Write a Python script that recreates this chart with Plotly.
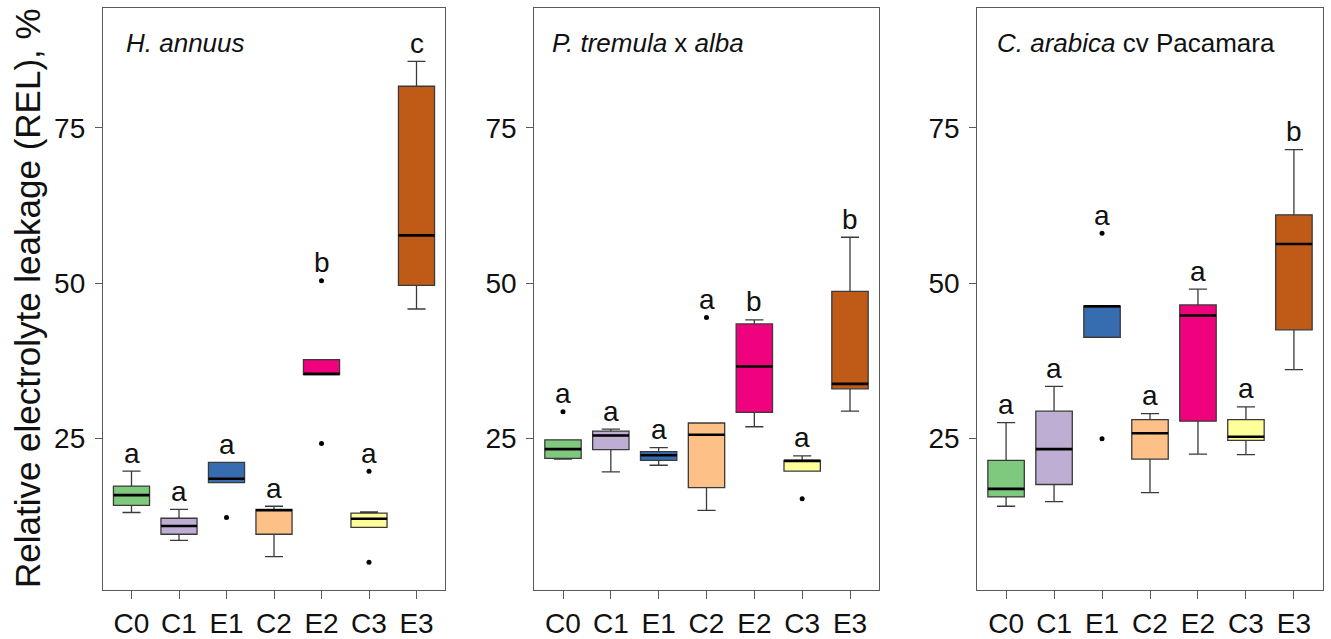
import plotly.graph_objects as go

categories = ["C0", "C1", "E1", "C2", "E2", "C3", "E3"]
colors = ["#7FC97F", "#BEAED4", "#386CB0", "#FDC086", "#F0027F", "#FFFF99", "#BF5B17"]
panel_titles = ["<i>H. annuus</i>", "<i>P. tremula</i> x <i>alba</i>", "<i>C. arabica</i> cv Pacamara"]

# Panel 1: H. annuus
p1_lo = [13.1, 8.6, 17.9, 6.0, 35.3, 10.7, 45.85]
p1_q1 = [14.25, 9.6, 17.9, 9.6, 35.3, 10.7, 49.65]
p1_med = [15.9, 10.93, 18.53, 13.45, 35.4, 12.1, 57.7]
p1_q3 = [17.35, 12.17, 21.15, 13.6, 37.7, 13.0, 81.7]
p1_hi = [19.76, 13.6, 21.15, 14.1, 37.7, 13.2, 85.7]
p1_out = [[], [], [12.3], [], [50.4, 24.2], [19.75, 5.1], []]
p1_letters = ["a", "a", "a", "a", "b", "a", "c"]

# Panel 2: P. tremula x alba
p2_lo = [21.7, 19.65, 20.7, 13.45, 26.9, 19.75, 29.4]
p2_q1 = [21.8, 23.2, 21.5, 17.1, 29.2, 19.75, 33.0]
p2_med = [23.3, 25.5, 22.3, 25.6, 36.6, 21.4, 33.8]
p2_q3 = [24.8, 26.2, 22.9, 27.5, 43.45, 21.5, 48.7]
p2_hi = [24.8, 26.5, 23.55, 27.5, 44.1, 22.2, 57.4]
p2_out = [[29.3], [], [], [44.5], [], [15.3], []]
p2_letters = ["a", "a", "a", "a", "b", "a", "b"]

# Panel 3: C. arabica cv Pacamara
p3_lo = [14.1, 14.85, 41.3, 16.3, 22.5, 22.4, 36.1]
p3_q1 = [15.6, 17.6, 41.3, 21.7, 27.8, 24.7, 42.5]
p3_med = [16.9, 23.3, 46.3, 25.85, 44.8, 25.3, 56.3]
p3_q3 = [21.5, 29.4, 46.3, 28.05, 46.5, 28.05, 61.0]
p3_hi = [27.55, 33.4, 46.3, 29.0, 49.06, 30.1, 71.5]
p3_out = [[], [], [58.05, 24.95], [], [], [], []]
p3_letters = ["a", "a", "a", "a", "a", "a", "b"]

y_ticks = [25, 50, 75]
y_title = "Relative electrolyte leakage (REL), %"

panels = [
    (p1_lo, p1_q1, p1_med, p1_q3, p1_hi, p1_out, p1_letters),
    (p2_lo, p2_q1, p2_med, p2_q3, p2_hi, p2_out, p2_letters),
    (p3_lo, p3_q1, p3_med, p3_q3, p3_hi, p3_out, p3_letters),
]

W, H = 1331, 639
x_px = [(103, 445), (534.3, 878.7), (977.3, 1322.7)]
y_px = (8, 592)
title_off = [21, 16, 18]

FONT = "Liberation Sans, Arial, sans-serif"
AXC = "#5a5a5a"
BOXW = 0.76
ymin, ymax = 0.6, 94.3

fig = go.Figure()
layout = dict(
    width=W, height=H, margin=dict(l=0, r=0, t=0, b=0),
    paper_bgcolor="white", plot_bgcolor="white", showlegend=False,
    font=dict(family=FONT, color="#111111"),
)
annotations = []

for k, (lo, q1, med, q3, hi, outs, letters) in enumerate(panels):
    xa = "x" if k == 0 else f"x{k+1}"
    ya = "y" if k == 0 else f"y{k+1}"
    for i, cat in enumerate(categories):
        fig.add_trace(go.Box(
            x=[i], q1=[q1[i]], median=[med[i]], q3=[q3[i]],
            lowerfence=[lo[i]], upperfence=[hi[i]],
            fillcolor=colors[i], line=dict(color="#3a3a3a", width=1.3),
            width=BOXW, whiskerwidth=0.5, boxpoints=False,
            xaxis=xa, yaxis=ya, hoverinfo="skip", name=cat,
        ))
    # thick median lines
    mx, my = [], []
    for i in range(len(categories)):
        mx += [i - BOXW / 2, i + BOXW / 2, None]
        my += [med[i], med[i], None]
    fig.add_trace(go.Scatter(x=mx, y=my, mode="lines",
                             line=dict(color="black", width=2.6),
                             xaxis=xa, yaxis=ya, hoverinfo="skip"))
    # outliers
    ox, oy = [], []
    for i, vals in enumerate(outs):
        for v in vals:
            ox.append(i)
            oy.append(v)
    fig.add_trace(go.Scatter(x=ox, y=oy, mode="markers",
                             marker=dict(color="black", size=5),
                             xaxis=xa, yaxis=ya, hoverinfo="skip"))
    # letters
    for i, lt in enumerate(letters):
        top = max([hi[i]] + outs[i])
        annotations.append(dict(
            x=i, y=top + 2.9, xref=xa, yref=ya, text=lt, showarrow=False,
            font=dict(size=28, family=FONT, color="#111111"),
            xanchor="center", yanchor="middle",
        ))
    # panel title (about 43 px from top of figure)
    annotations.append(dict(
        x=title_off[k] / (x_px[k][1] - x_px[k][0]),
        y=ymax - (43 - y_px[0]) / (y_px[1] - y_px[0]) * (ymax - ymin),
        xref=f"{xa} domain", yref=ya, text=panel_titles[k], showarrow=False,
        font=dict(size=26, family=FONT, color="#111111"),
        xanchor="left", yanchor="middle",
    ))

    axis_common = dict(
        showgrid=False, zeroline=False, showline=True, mirror=True,
        linecolor=AXC, linewidth=1.3, ticks="outside", tickcolor=AXC,
        tickwidth=1.3, tickfont=dict(size=28, family=FONT, color="#111111"),
    )
    layout["xaxis" if k == 0 else f"xaxis{k+1}"] = dict(
        axis_common,
        domain=[x_px[k][0] / W, x_px[k][1] / W],
        range=[-0.6, 6.6], tickvals=list(range(len(categories))),
        ticktext=categories, ticklen=8, anchor=ya,
    )
    layout["yaxis" if k == 0 else f"yaxis{k+1}"] = dict(
        axis_common,
        domain=[(H - y_px[1]) / H, (H - y_px[0]) / H],
        range=[ymin, ymax], tickvals=y_ticks, ticklen=7, anchor=xa,
        ticklabelstandoff=4,
    )

annotations.append(dict(
    x=27 / W, y=(H - 299) / H, xref="paper", yref="paper", text=y_title,
    showarrow=False, textangle=-90,
    font=dict(size=35, family=FONT, color="#111111"),
    xanchor="center", yanchor="middle",
))
layout["annotations"] = annotations
fig.update_layout(**layout)

fig.write_html("out.html", config={"displayModeBar": False},
               post_script="document.body.style.margin='0';document.body.style.overflow='hidden';")
